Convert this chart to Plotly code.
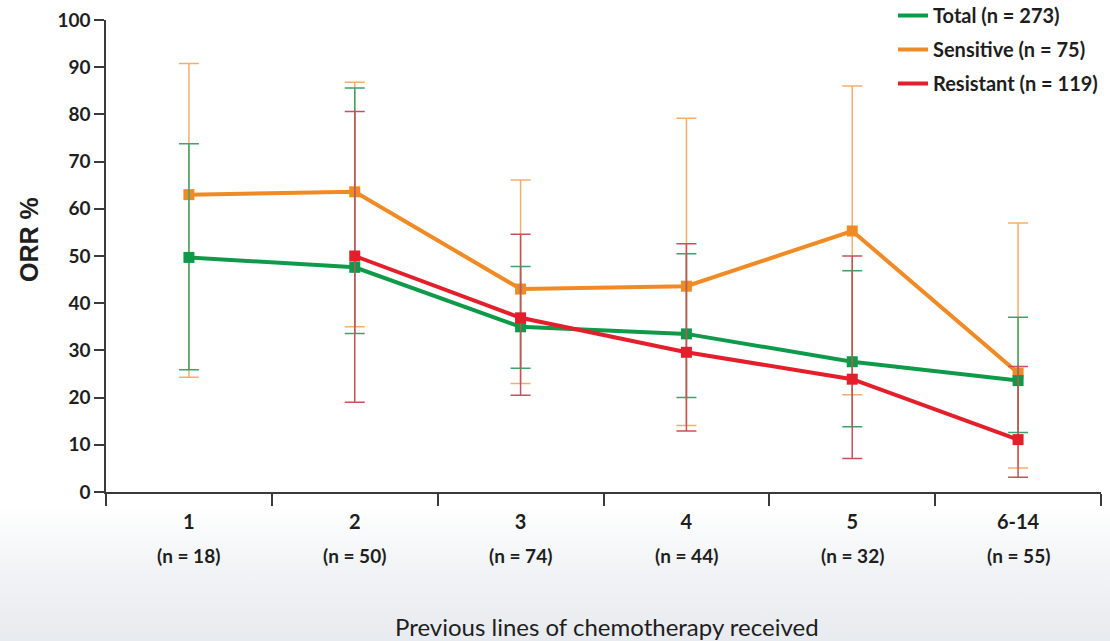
import base64
import plotly.graph_objects as go

# ---------------- data ----------------
categories = ["1", "2", "3", "4", "5", "6-14"]
n_labels = ["(n = 18)", "(n = 50)", "(n = 74)", "(n = 44)", "(n = 32)", "(n = 55)"]

total = [49.7, 47.6, 35.0, 33.5, 27.6, 23.6]
total_lo = [25.9, 33.6, 26.2, 20.0, 13.8, 12.6]
total_hi = [73.8, 85.6, 47.8, 50.5, 46.9, 37.0]

sens = [63.0, 63.6, 43.0, 43.6, 55.3, 25.2]
sens_lo = [24.3, 35.0, 23.0, 14.1, 20.6, 5.1]
sens_hi = [90.8, 86.8, 66.1, 79.2, 86.0, 57.0]

res_cats = ["2", "3", "4", "5", "6-14"]
res = [50.0, 36.9, 29.6, 23.9, 11.1]
res_lo = [19.0, 20.5, 12.9, 7.1, 3.1]
res_hi = [80.6, 54.6, 52.6, 50.0, 26.6]

legend_names = ["Total (n = 273)", "Sensitive (n = 75)", "Resistant (n = 119)"]

# ---------------- styles ----------------
GREEN, GREEN_EB = "#0F9A4A", "#3AA56A"
ORANGE, ORANGE_EB = "#F08A24", "#F4AE6C"
RED, RED_EB = "#E21F2A", "#C8505A"
AXIS = "#3A3A3A"
TXT = "#1E1E1E"

W, H = 1110, 641
ML, MR, MT, MB = 106, 9, 20, 149
PW, PH = W - ML - MR, H - MT - MB

fig = go.Figure()


def add_series(xs, ys, lo, hi, color, ebcolor):
    fig.add_trace(go.Scatter(
        x=xs, y=ys, mode="lines+markers", showlegend=False,
        line=dict(color=color, width=4),
        marker=dict(symbol="square", size=11, color=color),
        error_y=dict(type="data", symmetric=False,
                     array=[h - v for h, v in zip(hi, ys)],
                     arrayminus=[v - l for v, l in zip(ys, lo)],
                     color=ebcolor, thickness=1.5, width=10),
        cliponaxis=False,
    ))


add_series(categories, sens, sens_lo, sens_hi, ORANGE, ORANGE_EB)
add_series(categories, total, total_lo, total_hi, GREEN, GREEN_EB)
add_series(res_cats, res, res_lo, res_hi, RED, RED_EB)

# legend-only traces (line symbols, no markers)
for i, (name, col) in enumerate(zip(legend_names, [GREEN, ORANGE, RED])):
    fig.add_trace(go.Scatter(
        x=[None], y=[None], mode="lines", name=name,
        line=dict(color=col, width=4), legendgroup=f"g{i}", legendrank=i + 1,
    ))

# n labels under tick labels (category index positions)
for i, t in enumerate(n_labels):
    fig.add_annotation(x=i, xref="x", y=-(555 - (MT + PH)) / PH, yref="paper",
                       text=t, showarrow=False, xanchor="center", yanchor="middle",
                       font=dict(family="Lato", size=19, color=TXT, weight="bold"))

# y title
fig.add_annotation(x=(29 - ML) / PW, xref="paper", y=(MT + PH - 240) / PH, yref="paper",
                   text="ORR %", textangle=-90, showarrow=False,
                   xanchor="center", yanchor="middle",
                   font=dict(family="Liberation Sans", size=25, color=TXT, weight="bold"))

# x title
fig.add_annotation(x=(607 - ML) / PW, xref="paper", y=-(626 - (MT + PH)) / PH, yref="paper",
                   text="Previous lines of chemotherapy received", showarrow=False,
                   xanchor="center", yanchor="middle",
                   font=dict(family="Lato", size=24, color=TXT))

# background gradient (bottom grey)
svg = f"""<svg xmlns='http://www.w3.org/2000/svg' width='{W}' height='{H}' preserveAspectRatio='none'>
<defs><linearGradient id='g' x1='0' y1='0' x2='0' y2='1'>
<stop offset='0' stop-color='#FFFFFF'/>
<stop offset='0.79' stop-color='#FFFFFF'/>
<stop offset='0.88' stop-color='#F2F4F6'/>
<stop offset='1' stop-color='#E8EBEF'/>
</linearGradient></defs>
<rect width='{W}' height='{H}' fill='url(#g)'/></svg>"""
src = "data:image/svg+xml;base64," + base64.b64encode(svg.encode()).decode()
fig.add_layout_image(dict(source=src, xref="paper", yref="paper",
                          x=-ML / PW, y=1 + MT / PH, sizex=W / PW, sizey=H / PH,
                          xanchor="left", yanchor="top", sizing="stretch", layer="below"))

fig.update_layout(
    width=W, height=H,
    margin=dict(l=ML, r=MR, t=MT, b=MB, autoexpand=False),
    paper_bgcolor="white", plot_bgcolor="rgba(0,0,0,0)",
    showlegend=True,
    legend=dict(x=(893 - ML) / PW, y=1 + (MT + 4) / PH, xanchor="left", yanchor="top",
                bgcolor="rgba(0,0,0,0)", tracegroupgap=5,
                font=dict(family="Lato", size=20, color=TXT, weight="bold")),
    xaxis=dict(type="category", categoryarray=categories, range=[-0.5, 5.5],
               showline=True, linecolor=AXIS, linewidth=1.5,
               ticks="outside", tickson="boundaries", ticklen=12, tickwidth=1.5, tickcolor=AXIS,
               ticklabelstandoff=11,
               showgrid=False, zeroline=False,
               tickfont=dict(family="Lato", size=20, color=TXT, weight="bold")),
    yaxis=dict(range=[0, 100], dtick=10, showline=True, linecolor=AXIS, linewidth=1.5,
               ticks="outside", ticklen=10, tickwidth=1.5, tickcolor=AXIS,
               showgrid=False, zeroline=False,
               tickfont=dict(family="Lato", size=19, color=TXT, weight="bold")),
)

fig.write_html("out.html", config={"displayModeBar": False},
               post_script="document.body.style.margin='0';")
